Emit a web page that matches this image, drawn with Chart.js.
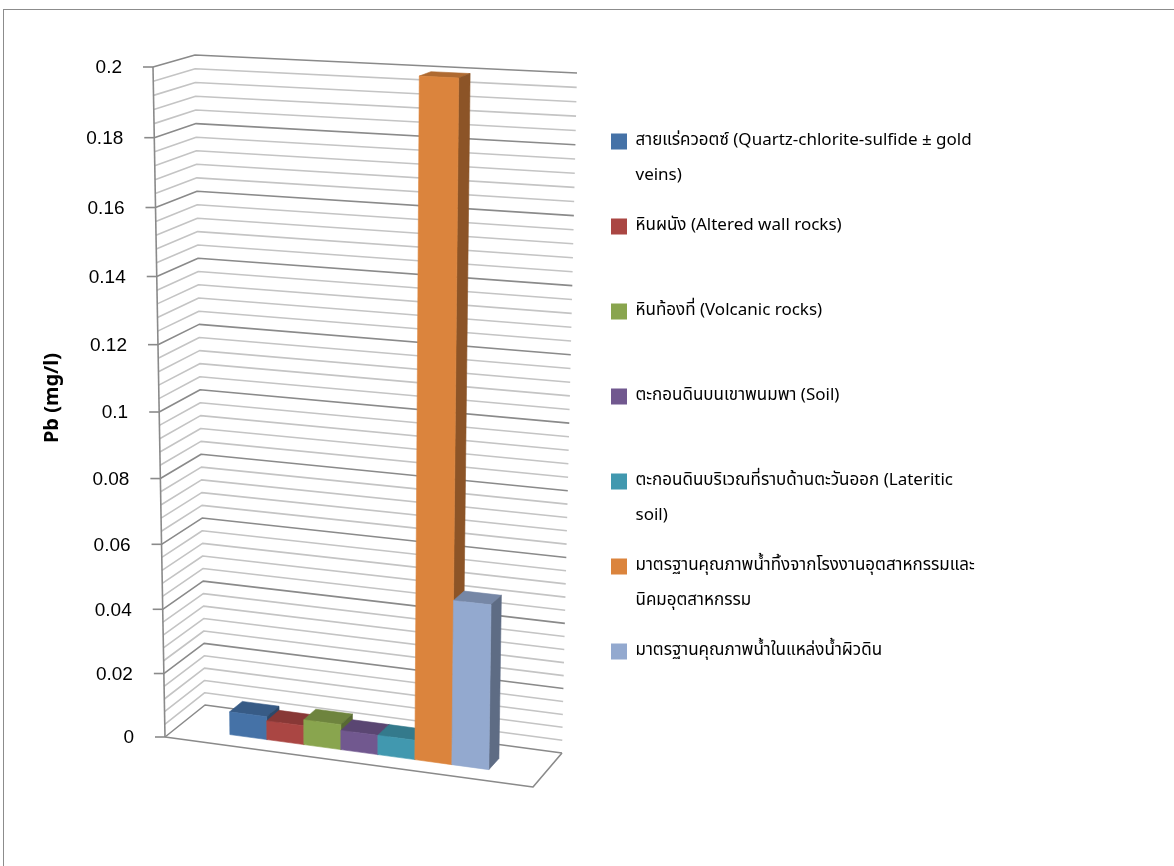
<!DOCTYPE html>
<html>
<head>
<meta charset="utf-8">
<script src="https://cdn.jsdelivr.net/npm/chart.js@4.4.1/dist/chart.umd.min.js"></script>
<style>
  html, body { margin: 0; padding: 0; background: #ffffff; }
  #wrap { width: 1174px; height: 866px; position: relative; }
</style>
</head>
<body>
<div id="wrap"><canvas id="chart" width="1174" height="866"></canvas></div>
<script>
// ---- data ----
const categories = ['Pb'];
const seriesNames = [
  'สายแร่ควอตซ์ (Quartz-chlorite-sulfide ± gold\nveins)',
  'หินผนัง (Altered wall rocks)',
  'หินท้องที่ (Volcanic rocks)',
  'ตะกอนดินบนเขาพนมพา (Soil)',
  'ตะกอนดินบริเวณที่ราบด้านตะวันออก (Lateritic\nsoil)',
  'มาตรฐานคุณภาพน้ำทิ้งจากโรงงานอุตสาหกรรมและ\nนิคมอุตสาหกรรม',
  'มาตรฐานคุณภาพน้ำในแหล่งน้ำผิวดิน'
];
const seriesValues = [0.0072, 0.0059, 0.0078, 0.0060, 0.0060, 0.2, 0.05];
const seriesColors = ['#4572A7', '#AA4643', '#89A54E', '#71588F', '#4198AF', '#DB843D', '#93A9CF'];
const axisTitle = 'Pb (mg/l)';
const yMin = 0, yMax = 0.2, yStep = 0.02, minorPerStep = 5;

// ---- on-screen corners of the plot volume (floor and ceiling quads) ----
const floorQuad = { l0: [165, 737], r0: [533, 787], l1: [205, 705], r1: [562, 753] };
const ceilQuad  = { l0: [153, 67],  r0: [545, 87],  l1: [195, 55],  r1: [577, 73] };
const topWeight = 0.942;        // vertical foreshortening
const barDepth = [0.30, 0.63];  // front / back of the bar row

function lerp2(a, b, t) { return [a[0] + (b[0] - a[0]) * t, a[1] + (b[1] - a[1]) * t]; }
function quadPt(q, u, z) { return lerp2(lerp2(q.l0, q.r0, u), lerp2(q.l1, q.r1, u), z); }
function project(u, v, z) {
  const t = v * topWeight / ((1 - v) + v * topWeight);
  return lerp2(quadPt(floorQuad, u, z), quadPt(ceilQuad, u, z), t);
}
function shade(hex, f) {
  const n = parseInt(hex.slice(1), 16);
  const r = Math.round(((n >> 16) & 255) * f), g = Math.round(((n >> 8) & 255) * f), b = Math.round((n & 255) * f);
  return `rgb(${r},${g},${b})`;
}
function poly(ctx, pts, fill) {
  ctx.beginPath();
  ctx.moveTo(pts[0][0], pts[0][1]);
  for (let i = 1; i < pts.length; i++) ctx.lineTo(pts[i][0], pts[i][1]);
  ctx.closePath();
  ctx.fillStyle = fill;
  ctx.fill();
  ctx.strokeStyle = fill;
  ctx.lineWidth = 0.6;
  ctx.stroke();
}

const tickFont = '19px "Liberation Sans", Arial, sans-serif';
const titleFont = 'bold 20px "Noto Sans", "Liberation Sans", sans-serif';
const labelFamily = '"Noto Sans Thai", "Leelawadee UI", Tahoma, "Noto Sans", "DejaVu Sans", sans-serif';

// Draws walls, floor, 3-D columns and the value axis in perspective.
const scene3d = {
  id: 'scene3d',
  afterLayout(chart) {
    const lg = chart.legend;
    const w = lg.width;
    lg.left = 596; lg.right = 596 + w; lg.width = w;
    lg.top = 118; lg.bottom = 866; lg.height = 748;
  },
  beforeDatasetsDraw(chart) {
    const ctx = chart.ctx;
    const ys = chart.scales.y;
    const area = chart.chartArea;
    const base = ys.getPixelForValue(yMin);
    const span = base - ys.getPixelForValue(yMax);
    const frac = val => (base - ys.getPixelForValue(val)) / span;

    ctx.save();
    // outer frame
    ctx.strokeStyle = '#8c8c8c';
    ctx.lineWidth = 1;
    ctx.strokeRect(3.5, 9.5, 1400, 1000);

    // gridlines on side wall and back wall
    const majors = ys.ticks.map(t => t.value);
    const lines = [];
    for (let i = 0; i < majors.length; i++) {
      lines.push({ val: majors[i], major: true });
      if (i < majors.length - 1) {
        const d = (majors[i + 1] - majors[i]) / minorPerStep;
        for (let k = 1; k < minorPerStep; k++) lines.push({ val: majors[i] + d * k, major: false });
      }
    }
    ctx.lineJoin = 'round';
    [false, true].forEach(pass => {
      lines.filter(l => l.major === pass).forEach(l => {
        const v = frac(l.val);
        const a = project(0, v, 0), b = project(0, v, 1), c = project(1, v, 1);
        ctx.beginPath();
        ctx.moveTo(a[0], a[1]); ctx.lineTo(b[0], b[1]); ctx.lineTo(c[0], c[1]);
        ctx.strokeStyle = pass ? '#8a8a8a' : '#c4c4c4';
        ctx.lineWidth = 1.6;
        ctx.stroke();
      });
    });

    // floor front and right edges
    const f0 = project(0, 0, 0), f1 = project(1, 0, 0), f2 = project(1, 0, 1);
    ctx.beginPath();
    ctx.moveTo(f0[0], f0[1]); ctx.lineTo(f1[0], f1[1]); ctx.lineTo(f2[0], f2[1]);
    ctx.strokeStyle = '#8a8a8a';
    ctx.lineWidth = 1.6;
    ctx.stroke();

    // columns, left to right
    const [z0, z1] = barDepth;
    chart.data.datasets.forEach((ds, i) => {
      const meta = chart.getDatasetMeta(i);
      meta.data.forEach(el => {
        const p = el.getProps(['x', 'y', 'width', 'base'], true);
        const u0 = (p.x - p.width / 2 - area.left) / (area.right - area.left);
        const u1 = (p.x + p.width / 2 - area.left) / (area.right - area.left);
        const v = (p.base - p.y) / span;
        const col = ds.backgroundColor;
        poly(ctx, [project(u0, v, z0), project(u1, v, z0), project(u1, v, z1), project(u0, v, z1)], shade(col, 0.8));
        poly(ctx, [project(u1, 0, z0), project(u1, 0, z1), project(u1, v, z1), project(u1, v, z0)], shade(col, 0.64));
        poly(ctx, [project(u0, 0, z0), project(u1, 0, z0), project(u1, v, z0), project(u0, v, z0)], col);
      });
    });

    // value axis line, ticks and labels
    const a0 = project(0, 0, 0), a1 = project(0, 1, 0);
    ctx.beginPath();
    ctx.moveTo(a0[0], a0[1]); ctx.lineTo(a1[0], a1[1]);
    ctx.strokeStyle = '#8a8a8a';
    ctx.lineWidth = 1.6;
    ctx.stroke();
    ctx.font = tickFont;
    ctx.fillStyle = '#000';
    ctx.textAlign = 'right';
    ctx.textBaseline = 'middle';
    ys.ticks.forEach(t => {
      const q = project(0, frac(t.value), 0);
      ctx.beginPath();
      ctx.moveTo(q[0] - 10, q[1]); ctx.lineTo(q[0], q[1]);
      ctx.stroke();
      ctx.fillText(t.label, q[0] - 31, q[1] + 1);
    });

    // axis title
    ctx.save();
    ctx.translate(52, 398);
    ctx.rotate(-Math.PI / 2);
    ctx.textAlign = 'center';
    ctx.font = titleFont;
    ctx.fillText(axisTitle, 0, 0);
    ctx.restore();

    ctx.restore();
    return false;
  }
};

new Chart(document.getElementById('chart'), {
  type: 'bar',
  data: {
    labels: categories,
    datasets: seriesNames.map((name, i) => ({
      label: name,
      data: [seriesValues[i]],
      backgroundColor: seriesColors[i]
    }))
  },
  options: {
    responsive: false,
    animation: false,
    devicePixelRatio: 1,
    categoryPercentage: 0.71,
    barPercentage: 1.0,
    layout: { padding: 0 },
    scales: {
      x: { display: false },
      y: {
        display: false,
        min: yMin, max: yMax,
        ticks: { stepSize: yStep, callback: v => String(+Number(v).toFixed(4)) }
      }
    },
    plugins: {
      tooltip: { enabled: false },
      legend: {
        position: 'right',
        align: 'start',
        labels: {
          boxWidth: 16,
          boxHeight: 16,
          padding: 15,
          color: '#000',
          font: { family: labelFamily, size: 17, lineHeight: 35 / 17 },
          generateLabels(chart) {
            return chart.data.datasets.map((ds, i) => {
              const lines = ds.label.split('\n');
              while (lines.length < 2) lines.push('');
              return {
                text: lines,
                fillStyle: ds.backgroundColor,
                strokeStyle: ds.backgroundColor,
                lineWidth: 0,
                hidden: false,
                datasetIndex: i,
                fontColor: '#000'
              };
            });
          }
        }
      }
    }
  },
  plugins: [scene3d]
});
</script>
</body>
</html>
